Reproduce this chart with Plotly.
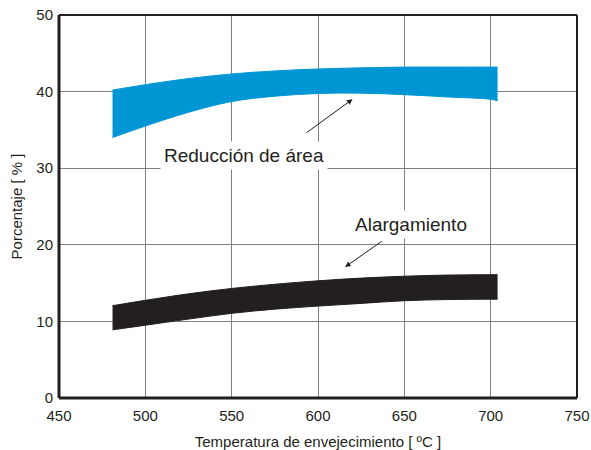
import plotly.graph_objects as go

# Temperature samples (°C) along each band
temp = [481, 500, 525, 550, 575, 600, 625, 650, 675, 700, 704]

# Reducción de área band (upper / lower limits, %)
area_upper = [40.2, 40.9, 41.7, 42.3, 42.7, 42.95, 43.1, 43.2, 43.2, 43.2, 43.2]
area_lower = [34.0, 35.5, 37.3, 38.7, 39.4, 39.75, 39.8, 39.6, 39.3, 39.0, 38.8]

# Alargamiento band (upper / lower limits, %)
elong_upper = [12.05, 12.75, 13.6, 14.3, 14.85, 15.3, 15.65, 15.9, 16.05, 16.1, 16.1]
elong_lower = [8.9, 9.5, 10.3, 11.05, 11.6, 12.0, 12.35, 12.7, 12.85, 12.9, 12.9]

x_ticks = [450, 500, 550, 600, 650, 700, 750]
y_ticks = [0, 10, 20, 30, 40, 50]

BLUE = "#0096D6"
BLACK = "#231F20"
FONT = "Liberation Sans, Arial, sans-serif"


def band(upper, lower, color, name):
    """Filled band between a lower and an upper curve."""
    lo = go.Scatter(x=temp, y=lower, mode="lines",
                    line=dict(color=color, width=1, shape="spline", smoothing=1.0),
                    hoverinfo="skip", showlegend=False)
    hi = go.Scatter(x=temp, y=upper, mode="lines", fill="tonexty", fillcolor=color,
                    line=dict(color=color, width=1, shape="spline", smoothing=1.0),
                    name=name, hoverinfo="skip", showlegend=False)
    return [lo, hi]


fig = go.Figure()
fig.add_traces(band(area_upper, area_lower, BLUE, "Reducción de área"))
fig.add_traces(band(elong_upper, elong_lower, BLACK, "Alargamiento"))

# Labels with arrows pointing to the bands
fig.add_annotation(x=620, y=39.0, ax=592.5, ay=34.5, xref="x", yref="y",
                   axref="x", ayref="y", text="", showarrow=True,
                   arrowhead=2, arrowsize=1.1, arrowwidth=1, arrowcolor=BLACK)
fig.add_annotation(x=615.7, y=17.1, ax=637.8, ay=20.6, xref="x", yref="y",
                   axref="x", ayref="y", text="", showarrow=True,
                   arrowhead=2, arrowsize=1.1, arrowwidth=1, arrowcolor=BLACK)
fig.add_annotation(x=557, y=31.7, xref="x", yref="y", text="Reducción de área",
                   showarrow=False, bgcolor="white", borderpad=3,
                   font=dict(family=FONT, size=19, color=BLACK))
fig.add_annotation(x=654, y=22.7, xref="x", yref="y", text="Alargamiento",
                   showarrow=False, bgcolor="white", borderpad=3,
                   font=dict(family=FONT, size=19, color=BLACK))

# Frame: heavier left/bottom, lighter top/right
fig.add_shape(type="line", xref="paper", yref="paper", x0=0, x1=0, y0=0, y1=1,
              line=dict(color=BLACK, width=3))
fig.add_shape(type="line", xref="paper", yref="paper", x0=0, x1=1, y0=0, y1=0,
              line=dict(color=BLACK, width=3))
fig.add_shape(type="line", xref="paper", yref="paper", x0=0, x1=1, y0=1, y1=1,
              line=dict(color=BLACK, width=2))
fig.add_shape(type="line", xref="paper", yref="paper", x0=1, x1=1, y0=0, y1=1,
              line=dict(color=BLACK, width=2))

fig.update_xaxes(range=[450, 750], tickvals=x_ticks, automargin=False,
                 showgrid=True, gridcolor="#808080", gridwidth=1, zeroline=False,
                 showline=False, ticks="outside", ticklen=4, tickcolor="rgba(0,0,0,0)",
                 tickfont=dict(family=FONT, size=15, color=BLACK),
                 title=dict(text="Temperatura de envejecimiento [ ºC ]",
                            font=dict(family=FONT, size=15, color=BLACK), standoff=14))
fig.update_yaxes(range=[0, 50], tickvals=y_ticks, automargin=False,
                 showgrid=True, gridcolor="#808080", gridwidth=1, zeroline=False,
                 showline=False, ticks="outside", ticklen=2, tickcolor="rgba(0,0,0,0)",
                 tickfont=dict(family=FONT, size=15, color=BLACK),
                 title=dict(text="Porcentaje [ % ]",
                            font=dict(family=FONT, size=15, color=BLACK), standoff=10))

fig.update_layout(
    width=591, height=450,
    margin=dict(l=59, r=14, t=15, b=52),
    plot_bgcolor="white", paper_bgcolor="white",
    showlegend=False,
)

fig.write_html("out.html")
